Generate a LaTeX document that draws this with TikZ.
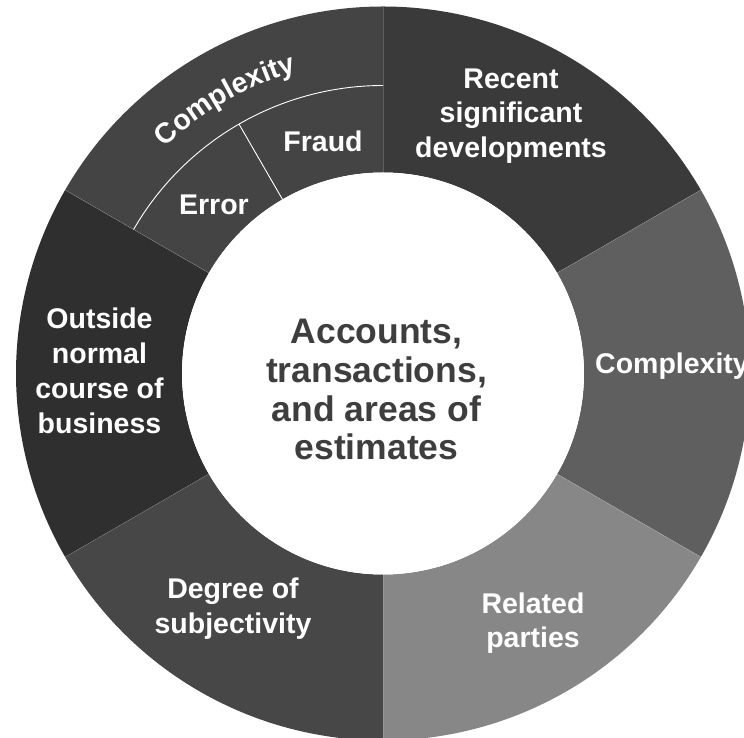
\documentclass[tikz,border=0pt]{standalone}
\usepackage{fontspec}
\setmainfont{Liberation Sans}
\usetikzlibrary{decorations.text}

% sector fills
\definecolor{secRecent}{HTML}{3A3A3A}
\definecolor{secComplex}{HTML}{5F5F5F}
\definecolor{secRelated}{HTML}{878787}
\definecolor{secDegree}{HTML}{474747}
\definecolor{secOutside}{HTML}{2F2F2F}
\definecolor{secRisk}{HTML}{444444}
\definecolor{hubText}{HTML}{3E3E3E}

\newcommand{\ringfont}{\fontsize{28.5}{34.5}\selectfont\bfseries}
\newcommand{\hubfont}{\fontsize{35.5}{39}\selectfont\bfseries}

% inner and outer radius of the ring
\newcommand{\rin}{201}
\newcommand{\rout}{367}

\begin{document}
\begin{tikzpicture}[x=1pt,y=1pt,
  lbl/.style={text=white, font=\ringfont, inner sep=0pt, anchor=base},
  hub/.style={text=hubText, font=\hubfont, inner sep=0pt, anchor=base},
  sepline/.style={draw=white, draw opacity=0.18, line width=0.7pt},
  splitline/.style={draw=white, line width=0.9pt}]
\useasboundingbox (-383,-364.5) rectangle (361,373.5);

% ring sectors, 60 degrees each
\fill[secRecent]  (90:\rout) arc (90:30:\rout) -- (30:\rin) arc (30:90:\rin) -- cycle;
\fill[secComplex] (30:\rout) arc (30:-30:\rout) -- (-30:\rin) arc (-30:30:\rin) -- cycle;
\fill[secRelated] (-30:\rout) arc (-30:-90:\rout) -- (-90:\rin) arc (-90:-30:\rin) -- cycle;
\fill[secDegree]  (-90:\rout) arc (-90:-150:\rout) -- (-150:\rin) arc (-150:-90:\rin) -- cycle;
\fill[secOutside] (210:\rout) arc (210:150:\rout) -- (150:\rin) arc (150:210:\rin) -- cycle;
\fill[secRisk]    (150:\rout) arc (150:90:\rout) -- (90:\rin) arc (90:150:\rin) -- cycle;

% faint sector boundaries
\foreach \a in {90,30,-30,-90,-150,150}
  \draw[sepline] (\a:\rin) -- (\a:\rout);

% subdivision of the upper-left sector
\draw[splitline] (150:288) arc (150:90:288);
\draw[splitline] (120:\rin) -- (120:288);

% hub
\fill[white] (0,0) circle (\rin);

% curved label on the outer band of the upper-left sector
\path[decorate, decoration={text along path, text align=center,
  text color=white, text={|\ringfont|Complexity}}]
  (150:314) arc (150:90:314);

% ring labels
\node[lbl] (rec1) at (128,285.2) {Recent};
\node[lbl] (rec2) at (128,250.7) {significant};
\node[lbl] (rec3) at (128,216.2) {developments};

\node[lbl, anchor=base west] (cpx) at (212,-0.5) {Complexity};

\node[lbl] (rel1) at (150,-239.5) {Related};
\node[lbl] (rel2) at (150,-274) {parties};

\node[lbl] (deg1) at (-150,-224.5) {Degree of};
\node[lbl] (deg2) at (-150,-259.5) {subjectivity};

\node[lbl] (out1) at (-283.5,44.5) {Outside};
\node[lbl] (out2) at (-283.5,9.5) {normal};
\node[lbl] (out3) at (-283.5,-25.5) {course of};
\node[lbl] (out4) at (-283.5,-60.5) {business};

\node[lbl] (fraud) at (-60,221.8) {Fraud};
\node[lbl] (error) at (-169,158.5) {Error};

% hub text
\node[hub] (hub1) at (-6.5,30.2) {Accounts,};
\node[hub] (hub2) at (-6.5,-9.2) {transactions,};
\node[hub] (hub3) at (-6.5,-48.2) {and areas of};
\node[hub] (hub4) at (-6.5,-86.5) {estimates};
\end{tikzpicture}
\end{document}
